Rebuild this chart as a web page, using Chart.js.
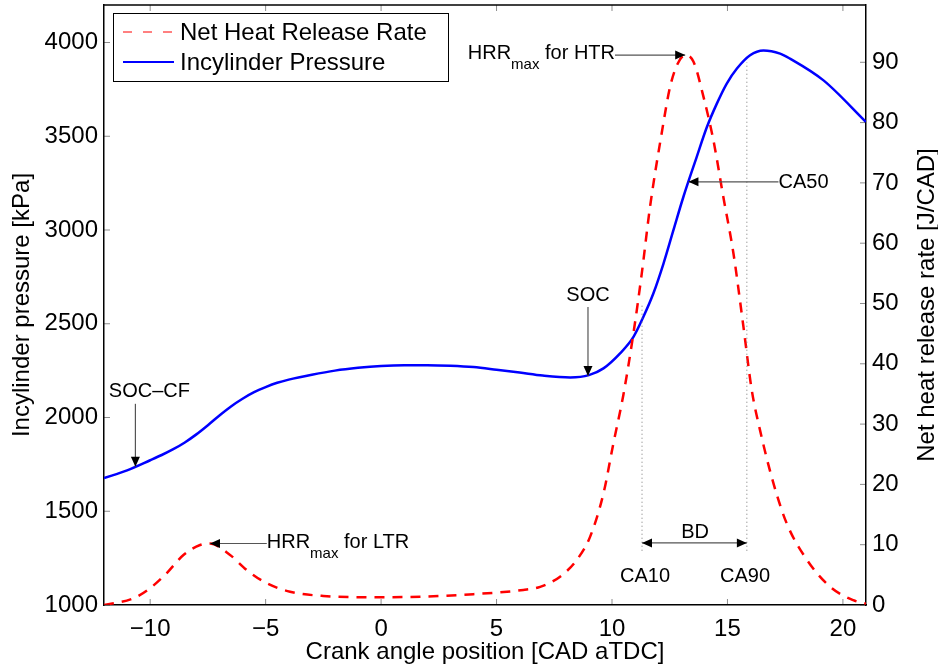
<!DOCTYPE html>
<html>
<head>
<meta charset="utf-8">
<script src="https://cdn.jsdelivr.net/npm/chart.js@4.4.1/dist/chart.umd.min.js"></script>
<style>
  html, body { margin: 0; padding: 0; background: #fff; }
  #wrap { width: 938px; height: 670px; }
</style>
</head>
<body>
<div id="wrap"><canvas id="heatChart" width="938" height="670"></canvas></div>
<script>
// crank angle [CAD aTDC] vs in-cylinder pressure [kPa]
const pressureAngle = [-12, -11, -10, -9.5, -9, -8.5, -8, -7.5, -7, -6.5, -6, -5.5, -5, -4.5, -4, -3, -2, -1, 0, 1, 2, 3, 4, 5, 6, 7, 8.19, 9.0,
    9.63, 10.35, 10.93, 11.36, 11.79, 12.23, 12.66, 13.09, 13.67, 14.11, 14.54, 14.97, 15.41, 15.98, 16.56,
    17.28, 17.71, 19.16, 21];
const pressure = [1677, 1718, 1772, 1800, 1831, 1867, 1910, 1959, 2011, 2059, 2100, 2135, 2162, 2185, 2202, 2228, 2250, 2265, 2275, 2279, 2279, 2276, 2269, 2255, 2240, 2224, 2214, 2226,
    2262, 2342, 2430, 2537, 2661, 2821, 2999, 3176, 3390, 3549, 3674, 3781, 3861, 3932, 3958,
    3941, 3914, 3798, 3576];

// crank angle vs net heat release rate [J/CAD]
const hrrAngle = [-12, -10.73, -10.0, -9.28, -8.56, -7.84, -7.41, -6.54, -5.82, -4.95, -3.94, -2.5, -0.04,
    1.83, 4.0, 6.16, 6.89, 7.75, 8.48, 9.05, 9.63, 10.06, 10.49, 10.93, 11.29, 11.65, 12.15, 12.52, 12.85,
    13.17, 13.53, 13.96, 14.39, 14.82, 15.26, 15.69, 16.05, 16.41, 16.99, 17.57, 18.44, 19.45, 20.45, 21];
const hrr = [0, 1.1, 2.8, 5.3, 8.3, 9.95, 10.2, 8.3, 5.8, 3.6, 2.2, 1.5, 1.27,
    1.4, 1.8, 2.5, 3.0, 4.7, 7.5, 11.3, 18.5, 26.8, 34.8, 45.1, 55.0, 66.1, 78.2, 86.0, 89.8,
    91.2, 90.1, 84.3, 77.1, 67.7, 58.3, 46.2, 35.7, 29.0, 20.2, 13.5, 7.5, 3.0, 0.8, 0.2];

// tick labels
const angleTicks = [-10, -5, 0, 5, 10, 15, 20];
const pressureTicks = [1000, 1500, 2000, 2500, 3000, 3500, 4000];
const hrrTicks = [0, 10, 20, 30, 40, 50, 60, 70, 80, 90];

// combustion markers (CAD)
const soccfAngle = -10.64, socAngle = 8.96;
const ltrPeak = [-7.41, 10.2], htrPeak = [13.17, 91.2];
const ca10 = 11.3, ca50 = 13.31, ca50Pressure = 3257, ca90 = 15.84;

const FONT = "'Liberation Sans', Arial, Helvetica, sans-serif";
Chart.defaults.font.family = FONT;
Chart.defaults.color = '#000';

function head(ctx, x1, y1, x2, y2) {
    const a = Math.atan2(y2 - y1, x2 - x1), len = 10, half = 4.5;
    const bx = x2 - len * Math.cos(a), by = y2 - len * Math.sin(a);
    ctx.beginPath();
    ctx.moveTo(x2, y2);
    ctx.lineTo(bx + half * Math.sin(a), by - half * Math.cos(a));
    ctx.lineTo(bx - half * Math.sin(a), by + half * Math.cos(a));
    ctx.closePath();
    ctx.fillStyle = '#000';
    ctx.fill();
}
function arrow(ctx, x1, y1, x2, y2, both) {
    ctx.save();
    ctx.strokeStyle = '#555';
    ctx.lineWidth = 1.2;
    ctx.setLineDash([]);
    ctx.beginPath();
    ctx.moveTo(x1, y1);
    ctx.lineTo(x2, y2);
    ctx.stroke();
    head(ctx, x1, y1, x2, y2);
    if (both) head(ctx, x2, y2, x1, y1);
    ctx.restore();
}
function hrrText(ctx, x, base, rest, alignRight) {
    const big = '20px ' + FONT, small = '15px ' + FONT;
    ctx.font = big; const w1 = ctx.measureText('HRR').width, w3 = ctx.measureText(rest).width;
    ctx.font = small; const w2 = ctx.measureText('max').width;
    let s = alignRight ? x - (w1 + w2 + w3) : x;
    ctx.textAlign = 'left';
    ctx.textBaseline = 'alphabetic';
    ctx.font = big; ctx.fillText('HRR', s, base);
    ctx.font = small; ctx.fillText('max', s + w1, base + 10);
    ctx.font = big; ctx.fillText(rest, s + w1 + w2, base);
}

const annotations = {
    id: 'annotations',
    afterDatasetsDraw(chart) {
        const ctx = chart.ctx, x = chart.scales.x, yl = chart.scales.yP, yr = chart.scales.yH;
        const ca = chart.chartArea;
        ctx.save();

        // dotted CA10 / CA90 lines
        ctx.strokeStyle = '#777';
        ctx.lineWidth = 1;
        ctx.setLineDash([1, 3]);
        ctx.beginPath();
        ctx.moveTo(x.getPixelForValue(ca10), yr.getPixelForValue(9));
        ctx.lineTo(x.getPixelForValue(ca10), yr.getPixelForValue(50));
        ctx.moveTo(x.getPixelForValue(ca90), yr.getPixelForValue(9));
        ctx.lineTo(x.getPixelForValue(ca90), yr.getPixelForValue(90));
        ctx.stroke();
        ctx.setLineDash([]);

        ctx.fillStyle = '#000';
        ctx.font = '20px ' + FONT;
        ctx.textAlign = 'center';
        ctx.textBaseline = 'middle';

        // SOC-CF
        let px = x.getPixelForValue(soccfAngle);
        let tip = yl.getPixelForValue(1737);
        arrow(ctx, px, tip - 63, px, tip);
        ctx.fillText('SOC\u2013CF', px + 14, tip - 75);

        // SOC
        px = x.getPixelForValue(socAngle);
        tip = yl.getPixelForValue(2222);
        arrow(ctx, px, tip - 69, px, tip);
        ctx.fillText('SOC', px, tip - 80);

        // HRRmax LTR
        let ay = yr.getPixelForValue(ltrPeak[1]);
        let sx = x.getPixelForValue(-4.95);
        arrow(ctx, sx, ay, x.getPixelForValue(ltrPeak[0]), ay);
        hrrText(ctx, sx, ay + 5, ' for LTR', false);

        // HRRmax HTR
        ay = yr.getPixelForValue(htrPeak[1]);
        sx = x.getPixelForValue(10.13);
        arrow(ctx, sx, ay, x.getPixelForValue(htrPeak[0]), ay);
        hrrText(ctx, sx, ay + 3.5, ' for HTR', true);

        // CA50
        ay = yl.getPixelForValue(ca50Pressure);
        sx = x.getPixelForValue(17.21);
        arrow(ctx, sx, ay, x.getPixelForValue(ca50), ay);
        ctx.font = '20px ' + FONT;
        ctx.fillStyle = '#000';
        ctx.textAlign = 'left';
        ctx.textBaseline = 'middle';
        ctx.fillText('CA50', sx, ay + 1);

        // burn duration
        ay = yr.getPixelForValue(10.3);
        arrow(ctx, x.getPixelForValue(ca10), ay, x.getPixelForValue(ca90), ay, true);
        ctx.textAlign = 'center';
        ctx.fillText('BD', x.getPixelForValue(13.6), ay - 10);
        ctx.fillText('CA10', x.getPixelForValue(11.43), yr.getPixelForValue(4.8));
        ctx.fillText('CA90', x.getPixelForValue(15.76), yr.getPixelForValue(4.8));

        // inner tick marks
        ctx.strokeStyle = 'rgba(0,0,0,0.45)';
        ctx.lineWidth = 1;
        ctx.beginPath();
        angleTicks.forEach(v => {
            const p = x.getPixelForValue(v);
            ctx.moveTo(p, ca.bottom); ctx.lineTo(p, ca.bottom - 6);
            ctx.moveTo(p, ca.top); ctx.lineTo(p, ca.top + 6);
        });
        pressureTicks.forEach(v => {
            const p = yl.getPixelForValue(v);
            ctx.moveTo(ca.left, p); ctx.lineTo(ca.left + 6, p);
        });
        hrrTicks.forEach(v => {
            const p = yr.getPixelForValue(v);
            ctx.moveTo(ca.right, p); ctx.lineTo(ca.right - 6, p);
        });
        ctx.stroke();

        // top frame
        ctx.strokeStyle = '#000';
        ctx.lineWidth = 1.5;
        ctx.beginPath();
        ctx.moveTo(ca.left, ca.top);
        ctx.lineTo(ca.right, ca.top);
        ctx.stroke();

        // legend
        const lx = 113, ly = 13, lw = 335, lh = 68;
        ctx.fillStyle = '#fff';
        ctx.fillRect(lx, ly, lw, lh);
        ctx.strokeStyle = '#000';
        ctx.lineWidth = 1;
        ctx.strokeRect(lx + 0.5, ly + 0.5, lw, lh);
        chart.data.datasets.forEach((ds, i) => {
            const yy = ly + 19 + i * 30;
            ctx.strokeStyle = ds.borderColor;
            ctx.lineWidth = i === 0 ? 1 : 2;
            ctx.setLineDash(i === 0 ? [9, 11] : []);
            ctx.beginPath();
            ctx.moveTo(123, yy);
            ctx.lineTo(174, yy);
            ctx.stroke();
            ctx.setLineDash([]);
            ctx.fillStyle = '#000';
            ctx.font = '24px ' + FONT;
            ctx.textAlign = 'left';
            ctx.textBaseline = 'middle';
            ctx.fillText(ds.label, 180, yy + 1);
        });

        // right axis title, reading upwards
        ctx.save();
        ctx.translate(927, (ca.top + ca.bottom) / 2);
        ctx.rotate(-Math.PI / 2);
        ctx.fillStyle = '#000';
        ctx.font = '24px ' + FONT;
        ctx.textAlign = 'center';
        ctx.textBaseline = 'middle';
        ctx.fillText('Net heat release rate [J/CAD]', 0, 0);
        ctx.restore();

        ctx.restore();
    }
};

const plainLabel = v => String(v).replace('-', '\u2212');
function noPad(s) {
    s.paddingTop = 0; s.paddingBottom = 0; s.paddingLeft = 0; s.paddingRight = 0;
}

new Chart(document.getElementById('heatChart').getContext('2d'), {
    type: 'line',
    data: {
        datasets: [{
            label: 'Net Heat Release Rate',
            data: hrrAngle.map((a, i) => ({ x: a, y: hrr[i] })),
            yAxisID: 'yH',
            borderColor: '#ff0000',
            borderWidth: 2.5,
            borderDash: [10, 8],
            pointRadius: 0,
            cubicInterpolationMode: 'monotone',
            fill: false
        }, {
            label: 'Incylinder Pressure',
            data: pressureAngle.map((a, i) => ({ x: a, y: pressure[i] })),
            yAxisID: 'yP',
            borderColor: '#0000ff',
            borderWidth: 2.5,
            pointRadius: 0,
            cubicInterpolationMode: 'monotone',
            fill: false
        }]
    },
    options: {
        responsive: false,
        animation: false,
        devicePixelRatio: 1,
        layout: { padding: { top: 5 } },
        plugins: { legend: { display: false }, tooltip: { enabled: false } },
        scales: {
            x: {
                type: 'linear',
                min: -12,
                max: 21,
                afterBuildTicks: s => { s.ticks = angleTicks.map(v => ({ value: v })); },
                afterFit: s => { s.height = 65; noPad(s); },
                grid: { display: false, drawTicks: false },
                border: { display: true, color: '#000', width: 1.5 },
                ticks: { font: { size: 24 }, padding: 10, callback: plainLabel },
                title: { display: true, text: 'Crank angle position [CAD aTDC]', font: { size: 24 }, padding: { top: 0, bottom: 3 } }
            },
            yP: {
                type: 'linear',
                position: 'left',
                min: 1000,
                max: 4200,
                afterBuildTicks: s => { s.ticks = pressureTicks.map(v => ({ value: v })); },
                afterFit: s => { s.width = 104; noPad(s); },
                grid: { display: false, drawTicks: false },
                border: { display: true, color: '#000', width: 1.5 },
                ticks: { font: { size: 24 }, padding: 6, callback: plainLabel },
                title: { display: true, text: 'Incylinder pressure [kPa]', font: { size: 24 }, padding: { top: 8, bottom: 0 } }
            },
            yH: {
                type: 'linear',
                position: 'right',
                min: 0,
                max: 99.5,
                afterBuildTicks: s => { s.ticks = hrrTicks.map(v => ({ value: v })); },
                afterFit: s => { s.width = 72; noPad(s); },
                grid: { display: false, drawTicks: false },
                border: { display: true, color: '#000', width: 1.5 },
                ticks: { font: { size: 24 }, padding: 6, callback: plainLabel }
            }
        }
    },
    plugins: [annotations]
});
</script>
</body>
</html>
